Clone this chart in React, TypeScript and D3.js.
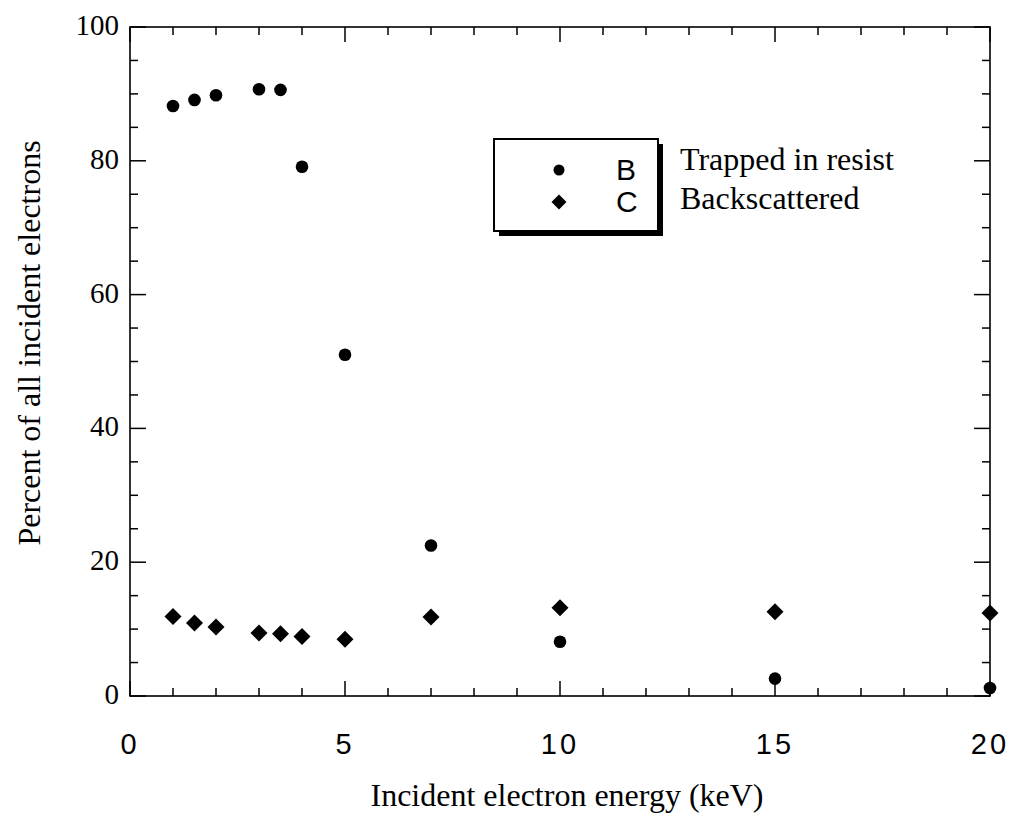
import React from "react";
import * as d3 from "d3";

const energies = [1, 1.5, 2, 3, 3.5, 4, 5, 7, 10, 15, 20];
const trapped = [88.2, 89.1, 89.8, 90.7, 90.6, 79.1, 51.0, 22.5, 8.1, 2.6, 1.2];
const backscattered = [11.9, 10.9, 10.3, 9.4, 9.3, 8.9, 8.5, 11.8, 13.2, 12.6, 12.4];
const xTickLabels = [0, 5, 10, 15, 20];
const yTickLabels = [0, 20, 40, 60, 80, 100];
const legendKeys = ["B", "C"];
const legendNames = ["Trapped in resist", "Backscattered"];

const W = 1013;
const H = 813;
const L = 130, R = 990, T = 27, B = 696;

export default function App() {
  const x = d3.scaleLinear().domain([0, 20]).range([L, R]);
  const y = d3.scaleLinear().domain([0, 100]).range([B, T]);
  const xMinor = d3.range(0, 21, 1);
  const yMinor = d3.range(0, 101, 5);
  const serif = "'Liberation Serif', 'Times New Roman', serif";
  const sans = "'Liberation Sans', Arial, sans-serif";
  const diamond = (cx: number, cy: number, r: number) =>
    `M${cx},${cy - r}L${cx + r},${cy}L${cx},${cy + r}L${cx - r},${cy}Z`;

  return (
    <svg width={W} height={H} style={{ position: "absolute", left: 0, top: 0, background: "#fff" }}>
      <rect x={0} y={0} width={W} height={H} fill="#fff" />
      {/* frame */}
      <rect x={L} y={T} width={R - L} height={B - T} fill="none" stroke="#000" strokeWidth={1.6} />
      {/* x ticks */}
      {xMinor.map((v) => {
        const len = v % 5 === 0 ? 15 : 8;
        return (
          <g key={"xt" + v}>
            <line x1={x(v)} x2={x(v)} y1={B} y2={B - len} stroke="#000" strokeWidth={1.5} />
            <line x1={x(v)} x2={x(v)} y1={T} y2={T + len} stroke="#000" strokeWidth={1.5} />
          </g>
        );
      })}
      {/* y ticks */}
      {yMinor.map((v) => {
        const len = v % 20 === 0 ? 16 : 8;
        return (
          <g key={"yt" + v}>
            <line x1={L} x2={L + len} y1={y(v)} y2={y(v)} stroke="#000" strokeWidth={1.5} />
            <line x1={R} x2={R - len} y1={y(v)} y2={y(v)} stroke="#000" strokeWidth={1.5} />
          </g>
        );
      })}
      {/* tick labels */}
      {xTickLabels.map((v) => (
        <text key={"xl" + v} x={x(v)} y={754} textAnchor="middle" fontFamily={sans} fontSize={29} letterSpacing={3} fill="#000">
          {v}
        </text>
      ))}
      {yTickLabels.map((v) => (
        <text key={"yl" + v} x={119} y={y(v) + 8} textAnchor="end" fontFamily={serif} fontSize={29} fill="#000">
          {v}
        </text>
      ))}
      {/* axis titles */}
      <text x={567} y={806} textAnchor="middle" fontFamily={serif} fontSize={32} fill="#000">
        Incident electron energy  (keV)
      </text>
      <text transform={`translate(40,343) rotate(-90)`} textAnchor="middle" fontFamily={serif} fontSize={32} fill="#000">
        Percent of all incident electrons
      </text>
      {/* data */}
      {energies.map((e, i) => (
        <circle key={"b" + i} cx={x(e)} cy={y(trapped[i])} r={6.3} fill="#000" />
      ))}
      {energies.map((e, i) => (
        <path key={"c" + i} d={diamond(x(e), y(backscattered[i]), 8.5)} fill="#000" />
      ))}
      {/* legend */}
      <rect x={499} y={144} width={164} height={92} fill="#000" />
      <rect x={494} y={139} width={164} height={92} fill="#fff" stroke="#000" strokeWidth={2} />
      <circle cx={559} cy={170} r={5.5} fill="#000" />
      <path d={diamond(559, 202, 7.5)} fill="#000" />
      {legendKeys.map((k, i) => (
        <text key={k} x={616} y={180 + i * 32} fontFamily={sans} fontSize={30} fill="#000">
          {k}
        </text>
      ))}
      {legendNames.map((n, i) => (
        <text key={n} x={680} y={170 + i * 39} fontFamily={serif} fontSize={32} fill="#000">
          {n}
        </text>
      ))}
    </svg>
  );
}
